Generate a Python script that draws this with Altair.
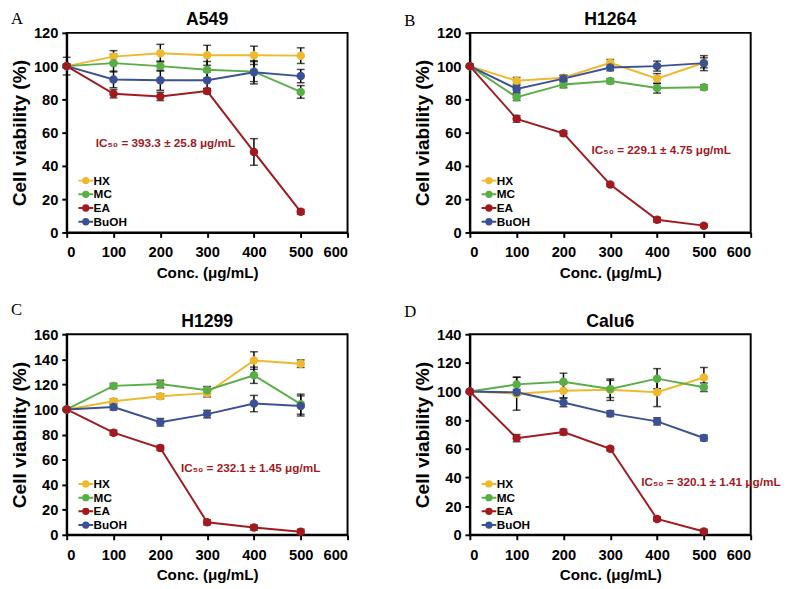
import altair as alt
import pandas as pd

conc = [0, 100, 200, 300, 400, 500]
series = ["HX", "MC", "EA", "BuOH"]
draw_order = ["HX", "MC", "BuOH", "EA"]
colors = ["#EDB92E", "#5AAE48", "#A11A1F", "#3C5193"]
x_ticks = [0, 100, 200, 300, 400, 500, 600]

# ---- A549 ----
a549_hx = [100, 105.7, 107.8, 106.5, 106.5, 106.3]
a549_hx_err = [5.3, 3.6, 5.3, 6.0, 5.5, 4.7]
a549_mc = [100, 101.8, 100.0, 97.8, 96.7, 84.5]
a549_mc_err = [1.0, 5.3, 3.0, 5.0, 6.0, 3.8]
a549_ea = [100, 83.4, 81.8, 85.0, 48.4, 12.4]
a549_ea_err = [1.0, 2.5, 2.5, 1.5, 8.0, 1.5]
a549_buoh = [100, 92.0, 91.5, 91.5, 96.3, 94.0]
a549_buoh_err = [1.0, 5.0, 6.0, 5.0, 7.0, 4.0]

# ---- H1264 ----
h1264_hx = [100, 91.2, 93.0, 102.0, 92.5, 102.0]
h1264_hx_err = [1.0, 2.0, 1.5, 2.0, 3.0, 3.0]
h1264_mc = [100, 81.3, 89.0, 91.0, 86.8, 87.3]
h1264_mc_err = [1.0, 2.0, 2.0, 1.5, 3.0, 1.5]
h1264_ea = [100, 68.3, 59.6, 28.8, 7.6, 4.1]
h1264_ea_err = [1.0, 2.0, 1.5, 1.0, 1.5, 1.0]
h1264_buoh = [100, 86.3, 92.5, 99.2, 100.0, 101.8]
h1264_buoh_err = [1.0, 2.0, 2.0, 2.0, 3.0, 4.5]

# ---- H1299 ----
h1299_hx = [100, 106.5, 110.5, 113.0, 139.0, 136.5]
h1299_hx_err = [1.0, 2.0, 2.0, 3.0, 7.0, 3.0]
h1299_mc = [100, 118.8, 120.3, 115.3, 127.3, 104.2]
h1299_mc_err = [1.0, 2.0, 3.0, 3.0, 6.5, 8.0]
h1299_ea = [100, 81.5, 69.3, 10.0, 5.8, 2.5]
h1299_ea_err = [1.0, 2.0, 2.0, 2.0, 2.0, 2.0]
h1299_buoh = [100, 102.0, 89.8, 96.3, 104.7, 102.8]
h1299_buoh_err = [1.0, 2.5, 3.0, 3.0, 6.5, 8.0]

# ---- Calu6 ----
calu6_hx = [100, 98.5, 100.5, 101.3, 99.5, 109.8]
calu6_hx_err = [1.0, 11.5, 5.0, 7.5, 10.0, 7.0]
calu6_mc = [100, 105.0, 106.8, 101.8, 109.0, 103.0]
calu6_mc_err = [1.0, 5.0, 6.0, 6.0, 7.0, 3.0]
calu6_ea = [100, 67.5, 71.7, 60.1, 11.1, 2.3]
calu6_ea_err = [1.0, 2.5, 2.0, 1.5, 1.5, 1.5]
calu6_buoh = [100, 99.5, 92.4, 84.6, 79.2, 67.6]
calu6_buoh_err = [1.0, 2.0, 3.0, 2.0, 2.5, 2.0]

# panel texts
panel_titles = ["A549", "H1264", "H1299", "Calu6"]
panel_letters = ["A", "B", "C", "D"]
ic50_texts = [
    "IC\u2085\u2080 = 393.3 \u00b1 25.8 \u03bcg/mL",
    "IC\u2085\u2080 = 229.1 \u00b1 4.75 \u03bcg/mL",
    "IC\u2085\u2080 = 232.1 \u00b1 1.45 \u03bcg/mL",
    "IC\u2085\u2080 = 320.1 \u00b1 1.41 \u03bcg/mL",
]
ic50_x = [62, 260, 244, 366]
ic50_y = [54, 49.4, 53.6, 37.1]
y_max = [120, 120, 160, 140]

FONT = "Liberation Sans"
PW = 287
LEGEND_PATH = ("M-1.5,0L1.5,0M0.55,0A0.55,0.55,0,1,1,-0.55,0"
               "A0.55,0.55,0,1,1,0.55,0Z")


def make_panel(idx, means, errs, height, letter_pos, title_dy, legend_y):
    rows = []
    lookup = dict(zip(series, zip(means, errs)))
    for s in draw_order:
        m, e = lookup[s]
        for c, v, d in zip(conc, m, e):
            rows.append({"conc": c, "series": s, "mean": v,
                         "lo": v - d, "hi": v + d})
    df = pd.DataFrame(rows)
    ymax = y_max[idx]

    xscale = alt.Scale(domain=[0, 600], nice=False)
    xaxis = alt.Axis(values=x_ticks, title="Conc. (\u03bcg/mL)",
                     titleFontSize=15.5, labelPadding=8, titlePadding=6)
    yscale = alt.Scale(domain=[0, ymax], nice=False)
    yaxis = alt.Axis(values=list(range(0, ymax + 1, 20)),
                     title="Cell viability (%)", titleFontSize=19.5,
                     labelPadding=4, titlePadding=4, labelOverlap=False)
    xenc = alt.X("conc:Q", scale=xscale, axis=xaxis)

    legend = alt.Legend(title=None, orient="none", legendX=13.5,
                        legendY=legend_y, symbolType=LEGEND_PATH,
                        symbolSize=100, symbolStrokeWidth=2,
                        labelFont=FONT, labelFontSize=12,
                        labelFontWeight="bold", labelColor="black",
                        labelOffset=2, rowPadding=0, padding=0)
    cscale_s = alt.Scale(domain=series, range=colors)
    cscale_f = alt.Scale(domain=series, range=colors)

    base = alt.Chart(df)
    line = base.mark_line(strokeWidth=2).encode(
        x=xenc,
        y=alt.Y("mean:Q", scale=yscale, axis=yaxis),
        stroke=alt.Stroke("series:N", scale=cscale_s, legend=legend),
        detail="series:N",
    )
    err = base.mark_errorbar(ticks=True, size=8, thickness=1.5,
                             color="black").encode(
        x=xenc,
        y=alt.Y("lo:Q", scale=yscale, axis=yaxis),
        y2="hi:Q",
        detail="series:N",
    )
    pts = base.mark_point(filled=True, shape="circle", size=75,
                          opacity=1).encode(
        x=xenc,
        y=alt.Y("mean:Q", scale=yscale, axis=yaxis),
        fill=alt.Fill("series:N", scale=cscale_f, legend=legend),
    )
    ann_df = pd.DataFrame({"x": [ic50_x[idx]], "y": [ic50_y[idx]],
                           "t": [ic50_texts[idx]]})
    ann = alt.Chart(ann_df).mark_text(
        align="left", baseline="middle", color="#A11A1F",
        font=FONT, fontSize=12, fontWeight="bold"
    ).encode(x=alt.X("x:Q", scale=xscale, axis=xaxis),
             y=alt.Y("y:Q", scale=yscale, axis=yaxis), text="t:N")
    let_df = pd.DataFrame({"t": [panel_letters[idx]]})
    let = alt.Chart(let_df).mark_text(
        align="left", baseline="middle", font="Liberation Serif",
        fontSize=17, color="black"
    ).encode(x=alt.value(letter_pos[0]), y=alt.value(letter_pos[1]),
             text="t:N")
    ttl_df = pd.DataFrame({"t": [panel_titles[idx]]})
    ttl = alt.Chart(ttl_df).mark_text(
        align="center", baseline="alphabetic", font=FONT, fontSize=18,
        fontWeight="bold", color="black"
    ).encode(x=alt.value(PW / 2), y=alt.value(title_dy), text="t:N")

    return alt.layer(line, err, pts, ann, let, ttl).properties(
        width=PW, height=height)


pA = make_panel(0, [a549_hx, a549_mc, a549_ea, a549_buoh],
                [a549_hx_err, a549_mc_err, a549_ea_err, a549_buoh_err],
                204, (-57, -14), -8, 145)
pB = make_panel(1, [h1264_hx, h1264_mc, h1264_ea, h1264_buoh],
                [h1264_hx_err, h1264_mc_err, h1264_ea_err, h1264_buoh_err],
                204, (-67, -12), -8, 145)
pC = make_panel(2, [h1299_hx, h1299_mc, h1299_ea, h1299_buoh],
                [h1299_hx_err, h1299_mc_err, h1299_ea_err, h1299_buoh_err],
                205, (-57, -25), -7, 147)
pD = make_panel(3, [calu6_hx, calu6_mc, calu6_ea, calu6_buoh],
                [calu6_hx_err, calu6_mc_err, calu6_ea_err, calu6_buoh_err],
                205, (-67, -23), -7, 147)

chart = alt.concat(
    pA, pB, pC, pD, columns=2,
    spacing=alt.RowColnumber(row=104, column=125),
    bounds="flush",
).resolve_scale(
    fill="independent", stroke="independent"
).resolve_legend(
    fill="independent", stroke="independent"
).properties(
    padding={"left": 0, "top": -5, "right": 0, "bottom": 0},
    background="white",
).configure_view(
    stroke="black", strokeWidth=2
).configure_axis(
    labelFont=FONT, labelFontSize=15, labelFontWeight="bold",
    labelColor="black", titleFont=FONT, titleFontWeight="bold",
    titleColor="black", domainColor="black", domainWidth=2,
    tickColor="black", tickWidth=2, tickSize=5, grid=False,
)

chart.save("out.html", embed_options={"renderer": "svg", "actions": False})
